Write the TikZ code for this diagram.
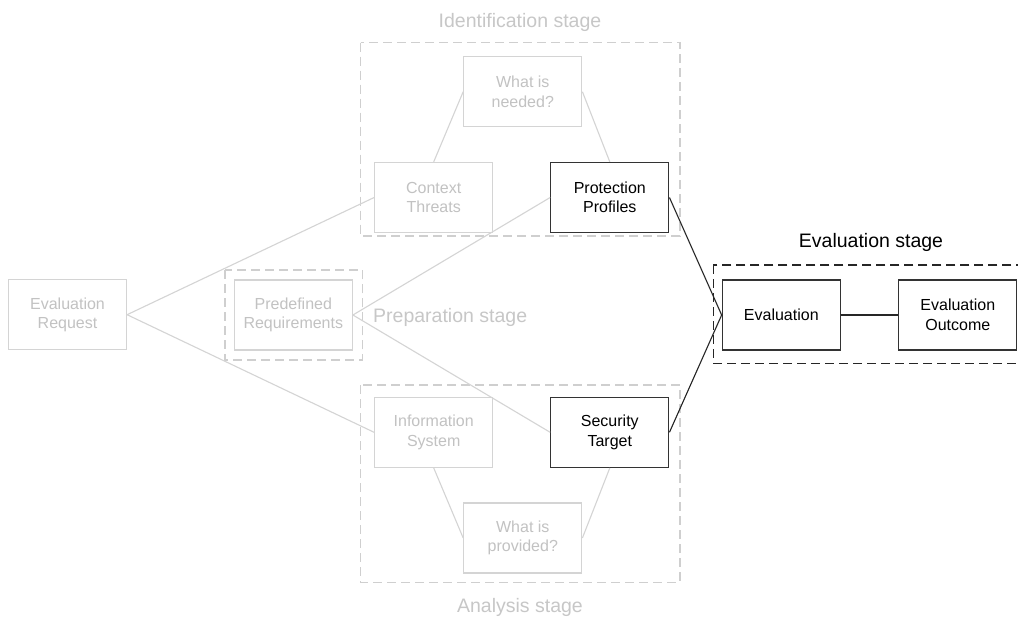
\documentclass[tikz,border=0pt]{standalone}
\usepackage{fontspec}
\setmainfont{Liberation Sans}
\begin{document}
\begin{tikzpicture}[x=1pt,y=-1pt,
  faded/.style={draw=black!17, line width=1.2pt, text=black!24},
  active/.style={draw=black!80, line width=1.3pt, text=black},
  box/.style={rectangle, minimum width=118pt, minimum height=70pt, align=center,
    inner sep=0pt, font=\fontsize{16}{19.5}\selectfont},
  fadedbox/.style={box, faded},
  activebox/.style={box, active},
  fadedlink/.style={draw=black!17, line width=1.1pt},
  activelink/.style={draw=black!85, line width=1.1pt},
  stagegray/.style={draw=black!19, line width=1.1pt, dash pattern=on 9pt off 5pt},
  stageblack/.style={draw=black!85, line width=1.4pt, dash pattern=on 9pt off 5pt},
  stagetitle/.style={font=\fontsize{19.5}{22}\selectfont, inner sep=0pt}
]
\useasboundingbox (0,0) rectangle (1018,619);
\fill[white] (0,0) rectangle (1018,619);

% stage frames
\draw[stagegray] (360.7,42.7) rectangle (680,236);
\draw[stagegray] (360.7,385) rectangle (680,582.3);
\draw[stagegray] (225,270) rectangle (362.3,360);
\draw[stageblack] (713.3,265) rectangle (1030,363.3);

% stage titles
\node[stagetitle, text=black!22] (tident) at (520,22) {Identification stage};
\node[stagetitle, text=black!22] (tanal) at (520,607) {Analysis stage};
\node[stagetitle, text=black!22, anchor=west] (tprep) at (373,317) {Preparation stage};
\node[stagetitle, text=black] (teval) at (871,242) {Evaluation stage};

% steps
\node[fadedbox] (er) at (67.5,314.7) {Evaluation\\Request};
\node[fadedbox] (pr) at (293.3,315) {Predefined\\Requirements};
\node[fadedbox] (ct) at (433.7,197.5) {Context\\Threats};
\node[fadedbox] (win) at (522.8,91.7) {What is\\needed?};
\node[activebox] (pp) at (609.8,197.5) {Protection\\Profiles};
\node[fadedbox] (is) at (433.7,432.3) {Information\\System};
\node[activebox] (st) at (609.8,432.3) {Security\\Target};
\node[fadedbox] (wip) at (522.8,538) {What is\\provided?};
\node[activebox] (ev) at (781.3,315) {Evaluation};
\node[activebox] (eo) at (957.8,315) {Evaluation\\Outcome};

% connectors
\draw[fadedlink] (er.east) -- (ct.west);
\draw[fadedlink] (er.east) -- (is.west);
\draw[fadedlink] (pr.east) -- (pp.west);
\draw[fadedlink] (pr.east) -- (st.west);
\draw[fadedlink] (win.west) -- (ct.north);
\draw[fadedlink] (win.east) -- (pp.north);
\draw[fadedlink] (is.south) -- (wip.west);
\draw[fadedlink] (st.south) -- (wip.east);
\draw[activelink] (pp.east) -- (ev.west);
\draw[activelink] (st.east) -- (ev.west);
\draw[activelink] (ev.east) -- (eo.west);
\end{tikzpicture}
\end{document}
